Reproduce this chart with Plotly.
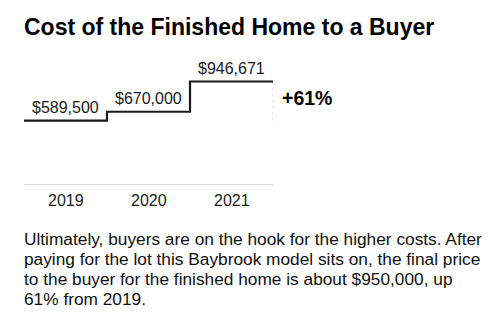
import plotly.graph_objects as go

# Cost of the finished home to a buyer, by year
years = [2019, 2020, 2021]
prices = [589500, 670000, 946671]

title_text = "Cost of the Finished Home to a Buyer"
body_lines = [
    "Ultimately, buyers are on the hook for the higher costs. After",
    "paying for the lot this Baybrook model sits on, the final price",
    "to the buyer for the finished home is about $950,000, up",
    "61% from 2019.",
]

FONT = "Liberation Sans, Arial, Helvetica, sans-serif"
INK = "#1a1a1a"

# plot area geometry (pixels)
PLOT_TOP, PLOT_BOTTOM = 60, 185
PLOT_H = PLOT_BOTTOM - PLOT_TOP


def paper_y(px):
    """Convert a pixel row to paper coordinates of the plot area."""
    return (PLOT_BOTTOM - px) / PLOT_H


# step edges: each year occupies [year - 0.5, year + 0.5]
edges_x = [y - 0.5 for y in years] + [years[-1] + 0.5]
edges_y = prices + [prices[-1]]

fig = go.Figure()

# light baseline along zero
fig.add_trace(go.Scatter(
    x=[edges_x[0], edges_x[-1]], y=[0, 0], mode="lines",
    line=dict(color="#dcdcdc", width=2), hoverinfo="skip", showlegend=False,
))

# dotted connector showing the overall change
fig.add_trace(go.Scatter(
    x=[edges_x[-1], edges_x[-1]], y=[prices[0], prices[-1]], mode="lines",
    line=dict(color="#c8c8c8", width=1, dash="dot"), hoverinfo="skip", showlegend=False,
))

# step line of prices
fig.add_trace(go.Scatter(
    x=edges_x, y=edges_y, mode="lines", line_shape="hv",
    line=dict(color=INK, width=2.2), hoverinfo="skip", showlegend=False,
))

annotations = []
for yr, p in zip(years, prices):
    annotations.append(dict(
        x=yr, y=p, xref="x", yref="y", text=f"${p:,.0f}", showarrow=False,
        yanchor="middle", yshift=13, font=dict(family=FONT, size=16, color=INK),
    ))
    annotations.append(dict(
        x=yr, y=paper_y(200), xref="x", yref="paper", text=str(yr), showarrow=False,
        yanchor="middle", font=dict(family=FONT, size=16, color=INK),
    ))

pct = round((prices[-1] / prices[0] - 1) * 100)
annotations.append(dict(
    x=edges_x[-1], y=paper_y(98), xref="x", yref="paper",
    text=f"<b>+{pct}%</b>", showarrow=False, xanchor="left", yanchor="middle", xshift=7,
    font=dict(family=FONT, size=19.5, color="#000"),
))

annotations.append(dict(
    x=0, y=paper_y(26.5), xref="paper", yref="paper", text=f"<b>{title_text}</b>",
    showarrow=False, xanchor="left", yanchor="middle", xshift=-2,
    font=dict(family=FONT, size=23, color="#000"),
))

for i, line in enumerate(body_lines):
    annotations.append(dict(
        x=0, y=paper_y(239 + 20 * i), xref="paper", yref="paper", text=line,
        showarrow=False, xanchor="left", yanchor="middle", align="left", xshift=-2,
        font=dict(family=FONT, size=17.3, color="#111"),
    ))

fig.update_layout(
    width=500, height=328,
    margin=dict(l=24, r=227, t=PLOT_TOP, b=328 - PLOT_BOTTOM),
    paper_bgcolor="white", plot_bgcolor="white",
    annotations=annotations,
    xaxis=dict(
        range=[edges_x[0], edges_x[-1]], showticklabels=False,
        showgrid=False, zeroline=False, showline=False, ticks="",
    ),
    yaxis=dict(
        range=[0, 1143300], visible=False, showgrid=False, zeroline=False,
    ),
)

fig.write_html("out.html")
